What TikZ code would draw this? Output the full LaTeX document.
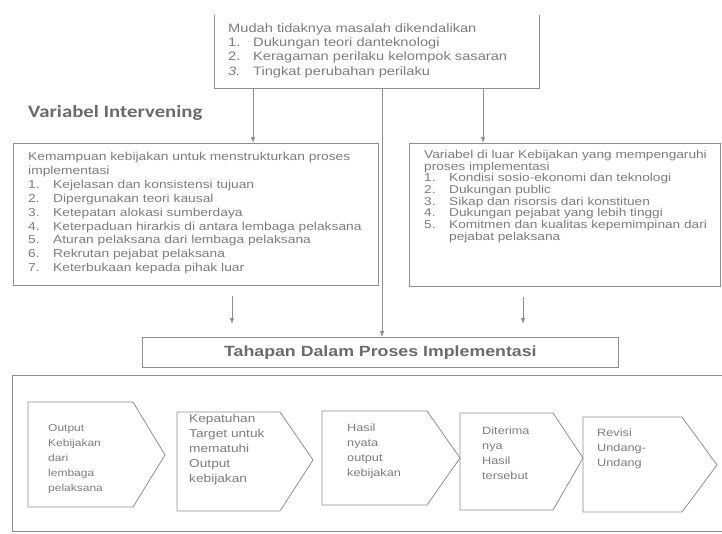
\documentclass[tikz,border=0pt]{standalone}
\usepackage{fontspec}
\setmainfont[FakeStretch=1.2]{Liberation Sans}
\newfontfamily\titlefont[FakeStretch=1.2]{Carlito}
\usetikzlibrary{arrows.meta,positioning}
\definecolor{linegray}{HTML}{8E8E8E}
\definecolor{textgray}{HTML}{7C7C7C}
\definecolor{headgray}{HTML}{6A6A6A}
\newcommand{\itm}[2]{\makebox[25pt][l]{#1}#2}
\begin{document}
\begin{tikzpicture}[x=1pt, y=-1pt,
        frame/.style={anchor=north west, inner sep=0pt, draw=linegray, line width=0.8pt},
        shell/.style={anchor=north west, inner sep=0pt},
        txt/.style={anchor=north west, inner sep=0pt, text=textgray, align=left, font=\fontsize{11.5}{13.9}\selectfont},
        steptxt/.style={anchor=north west, inner sep=0pt, text=textgray, align=left, font=\fontsize{10.6}{15}\selectfont},
        chev/.style={draw=linegray, line width=0.8pt, line join=miter},
        line/.style={draw=linegray, line width=0.8pt, -{Latex[length=6pt,width=4.5pt]}}]
    \useasboundingbox (0,0) rectangle (722,533);

    % masalah (top, open at the top edge)
    \node [shell, minimum width=325pt, minimum height=73pt] (masalah) at (214,15) {};
    \draw [linegray, line width=0.8pt] (masalah.north west) -- (masalah.south west) -- (masalah.south east) -- (masalah.north east);
    \node [txt, font=\fontsize{12.2}{14.4}\selectfont] (masalahtxt) at (228,23) {Mudah tidaknya masalah dikendalikan\\
        \itm{1.}{Dukungan teori danteknologi}\\
        \itm{2.}{Keragaman perilaku kelompok sasaran}\\
        \itm{\textit{3.}}{Tingkat perubahan perilaku}};

    \node [anchor=north west, inner sep=0pt, text=headgray, font=\titlefont\bfseries\fontsize{17.3}{19}\selectfont] (judul) at (28,105) {Variabel Intervening};

    % the two variable boxes
    \node [frame, minimum width=365pt, minimum height=142pt] (struktur) at (13,143) {};
    \node [txt] (strukturtxt) at (28,152) {Kemampuan kebijakan untuk menstrukturkan proses\\
        implementasi\\
        \itm{1.}{Kejelasan dan konsistensi tujuan}\\
        \itm{2.}{Dipergunakan teori kausal}\\
        \itm{3.}{Ketepatan alokasi sumberdaya}\\
        \itm{4.}{Keterpaduan hirarkis di antara lembaga pelaksana}\\
        \itm{5.}{Aturan pelaksana dari lembaga pelaksana}\\
        \itm{6.}{Rekrutan pejabat pelaksana}\\
        \itm{7.}{Keterbukaan kepada pihak luar}};

    \node [frame, minimum width=311pt, minimum height=143pt] (luar) at (409,143) {};
    \node [txt, font=\fontsize{11.4}{11.7}\selectfont] (luartxt) at (424,150) {Variabel di luar Kebijakan yang mempengaruhi\\
        proses implementasi\\
        \itm{1.}{Kondisi sosio-ekonomi dan teknologi}\\
        \itm{2.}{Dukungan public}\\
        \itm{3.}{Sikap dan risorsis dari konstituen}\\
        \itm{4.}{Dukungan pejabat yang lebih tinggi}\\
        \itm{5.}{Komitmen dan kualitas kepemimpinan dari}\\
        \hspace*{25pt}pejabat pelaksana};

    \node [frame, minimum width=476pt, minimum height=30pt, text=headgray,
        font=\bfseries\fontsize{14.8}{16}\selectfont] (tahapan) at (142,337) {Tahapan Dalam Proses Implementasi};

    % arrows
    \path [line] ([xshift=39pt]masalah.south west) -- ([xshift=39pt]masalah.south west |- struktur.north);
    \path [line] ([xshift=168pt]masalah.south west) -- ([xshift=168pt]masalah.south west |- tahapan.north);
    \path [line] ([xshift=269pt]masalah.south west) -- ([xshift=269pt]masalah.south west |- luar.north);
    \path [line, shorten <=10pt, shorten >=13pt] ([xshift=219pt]struktur.south west) -- ([xshift=219pt]struktur.south west |- tahapan.north);
    \path [line, shorten <=10pt, shorten >=13pt] ([xshift=114pt]luar.south west) -- ([xshift=114pt]luar.south west |- tahapan.north);

    % frame round the stages (runs off the right edge)
    \node [shell, minimum width=712pt, minimum height=156pt] (tahap) at (12,375) {};
    \draw [linegray, line width=0.8pt] (tahap.north east) -- (tahap.north west) -- (tahap.south west) -- (tahap.south east);

    % stages
    \draw [chev] (28,402) -- (133,402) -- (165,455) -- (133,507) -- (28,507) -- cycle;
    \node [steptxt, font=\fontsize{10}{15}\selectfont] (output) at (48,424) {Output\\Kebijakan\\dari\\lembaga\\pelaksana};

    \draw [chev] (177,412) -- (280,412) -- (313,460) -- (280,511) -- (177,511) -- cycle;
    \node [steptxt, font=\fontsize{11.4}{15}\selectfont] (patuh) at (189,414) {Kepatuhan\\Target untuk\\mematuhi\\Output\\kebijakan};

    \draw [chev] (322,411) -- (427,411) -- (460,458) -- (427,505) -- (322,505) -- cycle;
    \node [steptxt] (hasil) at (347,424) {Hasil\\nyata\\output\\kebijakan};

    \draw [chev] (460,413) -- (553,413) -- (583,458) -- (553,510) -- (460,510) -- cycle;
    \node [steptxt] (terima) at (482,427) {Diterima\\nya\\Hasil\\tersebut};

    \draw [chev] (583,417) -- (682,417) -- (717,465) -- (682,512) -- (583,512) -- cycle;
    \node [steptxt] (revisi) at (597,429) {Revisi\\Undang-\\Undang};
\end{tikzpicture}
\end{document}
